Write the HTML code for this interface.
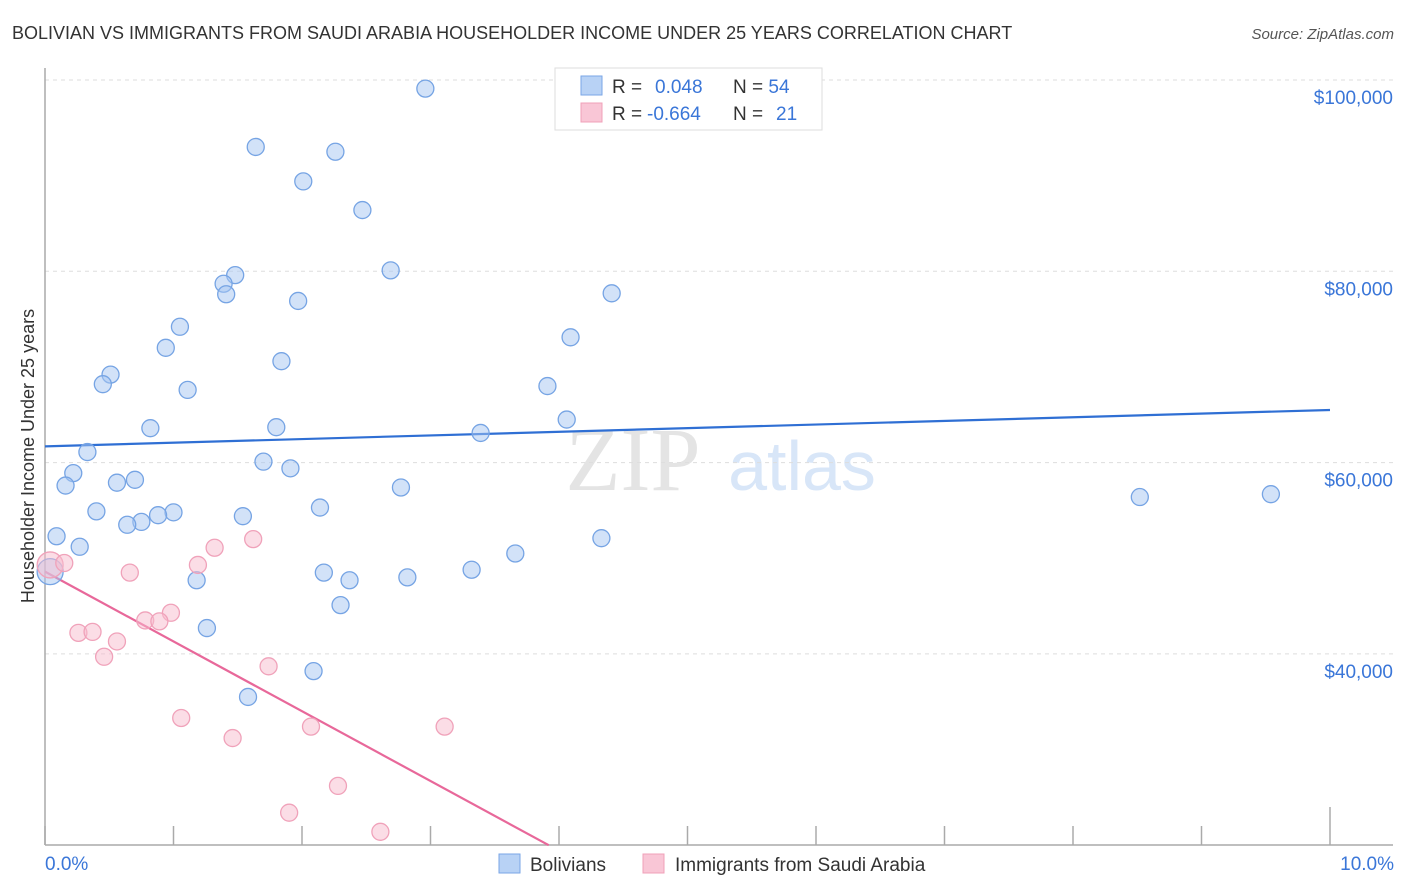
<!DOCTYPE html>
<html><head><meta charset="utf-8"><style>
body{margin:0;background:#fff;font-family:"Liberation Sans",sans-serif;}
svg{display:block}
</style></head><body>
<svg id="chart" width="1406" height="892" xmlns="http://www.w3.org/2000/svg">
<text x="12" y="39" font-size="18" fill="#333">BOLIVIAN VS IMMIGRANTS FROM SAUDI ARABIA HOUSEHOLDER INCOME UNDER 25 YEARS CORRELATION CHART</text>
<text x="1394" y="39" font-size="15" fill="#555" font-style="italic" text-anchor="end">Source: ZipAtlas.com</text>
<g>
<text x="633" y="490" font-size="90" fill="#e4e4e4" font-family="Liberation Serif" text-anchor="middle">ZIP</text>
<text x="802" y="490" font-size="70" fill="#d8e6f8" text-anchor="middle">atlas</text>
</g>
<g id="grid"></g><g id="axes"></g><g id="lines"></g><g id="pts"></g>
<text transform="translate(34,456) rotate(-90)" font-size="18" fill="#333" text-anchor="middle">Householder Income Under 25 years</text>
<text x="45" y="870" font-size="19" fill="#3a76d8">0.0%</text>
<text x="1394" y="870" font-size="19" fill="#3a76d8" text-anchor="end">10.0%</text>
<g>
<rect x="555" y="68" width="267" height="62" fill="#fff" stroke="#ddd"/>
<rect x="581" y="76" width="21" height="19" fill="#b8d2f5" stroke="#7aa6e6"/>
<rect x="581" y="103" width="21" height="19" fill="#f9c6d6" stroke="#f0a0b8"/>
<text x="612" y="93" font-size="19" fill="#333">R = <tspan fill="#3a76d8" x="655">0.048</tspan><tspan fill="#333" x="733">N = </tspan><tspan fill="#3a76d8">54</tspan></text>
<text x="612" y="120" font-size="19" fill="#333">R = <tspan fill="#3a76d8" x="647">-0.664</tspan><tspan fill="#333" x="733">N = </tspan><tspan fill="#3a76d8" x="776">21</tspan></text>
</g>
<g>
<rect x="499" y="854" width="21" height="19" fill="#b8d2f5" stroke="#7aa6e6"/>
<text x="530" y="871" font-size="19" fill="#333">Bolivians</text>
<rect x="643" y="854" width="21" height="19" fill="#f9c6d6" stroke="#f0a0b8"/>
<text x="675" y="871" font-size="19" fill="#333">Immigrants from Saudi Arabia</text>
</g>
</svg>
<script>
const yTicks=[100000,80000,60000,40000];
const yTickLabels=["$100,000","$80,000","$60,000","$40,000"];
const xTicks=[0,1,2,3,4,5,6,7,8,9,10];
const blueX=[2.96,1.64,2.26,2.01,2.47,2.69,1.48,1.39,1.41,1.97,4.41,1.05,4.09,0.94,1.84,0.51,0.45,1.11,3.91,0.82,1.80,4.06,3.39,0.33,1.70,1.91,0.22,0.16,0.56,0.70,2.77,0.40,2.14,1.54,1.00,0.88,0.75,0.64,0.09,0.27,4.33,3.66,2.17,3.32,2.37,1.18,2.82,2.30,1.26,2.09,1.58,8.52,9.54,0.04];
const blueY=[99100,93000,92500,89400,86400,80100,79600,78700,77600,76900,77700,74200,73100,72000,70600,69200,68200,67600,68000,63600,63700,64500,63100,61100,60100,59400,58900,57600,57900,58200,57400,54900,55300,54400,54800,54500,53800,53500,52300,51200,52100,50500,48500,48800,47700,47700,48000,45100,42700,38200,35500,56400,56700,48600];
const pinkX=[0.04,0.15,0.66,1.32,1.62,1.19,0.98,0.78,0.89,0.26,0.37,0.56,0.46,1.74,1.06,1.46,2.07,3.11,2.28,1.90,2.61];
const pinkY=[49300,49500,48500,51100,52000,49300,44300,43500,43400,42200,42300,41300,39700,38700,33300,31200,32400,32400,26200,23400,21400];
const blueTrend=[61700,65500];
const pinkTrend=[48600,20000,3.92];
const NS="http://www.w3.org/2000/svg";
const xs=v=>45+v*128.5;
const ys=v=>80+(100000-v)/20000*191.3;
function mk(t,a,p){const e=document.createElementNS(NS,t);for(const k in a)e.setAttribute(k,a[k]);document.getElementById(p).appendChild(e);return e;}
yTicks.forEach((t,i)=>{
 const l=mk('line',{x1:45,x2:1393,y1:ys(t),y2:ys(t),stroke:'#ddd','stroke-dasharray':'4,4'},'grid');
 
 
 const tx=mk('text',{x:1393,y:ys(t)+24,'font-size':19,fill:'#3a76d8','text-anchor':'end'},'grid');
 tx.textContent=yTickLabels[i];
 
 
});
const ya=mk('line',{x1:45,x2:45,y1:68,y2:845,stroke:'#aaa','stroke-width':1.5},'axes');


const xa=mk('line',{x1:45,x2:1393,y1:845,y2:845,stroke:'#aaa','stroke-width':1.5},'axes');


xTicks.forEach(t=>{
 const tk=mk('line',{x1:xs(t),x2:xs(t),y1:(t===10?807:826),y2:845,stroke:'#aaa','stroke-width':1.5},'axes');
 
 
});
const bl=mk('line',{x1:xs(0),y1:ys(blueTrend[0]),x2:xs(10),y2:ys(blueTrend[1]),stroke:'#2f6fd4','stroke-width':2.2},'lines');


const pl=mk('line',{x1:xs(0),y1:ys(pinkTrend[0]),x2:xs(pinkTrend[2]),y2:ys(pinkTrend[1]),stroke:'#e8689a','stroke-width':2.2},'lines');


blueX.forEach((x,i)=>{
 const big=i===blueX.length-1;
 const c=mk('circle',{cx:xs(x),cy:ys(blueY[i]),r:big?13:8.5,fill:'rgba(165,198,242,0.5)',stroke:'#76a4e4','stroke-width':1.3},'pts');
 
 
});
pinkX.forEach((x,i)=>{
 const big=i===0;
 const c=mk('circle',{cx:xs(x),cy:ys(pinkY[i]),r:big?13:8.5,fill:'rgba(248,188,206,0.5)',stroke:'#f0a2ba','stroke-width':1.3},'pts');
 
 
});
</script>
</body></html>
